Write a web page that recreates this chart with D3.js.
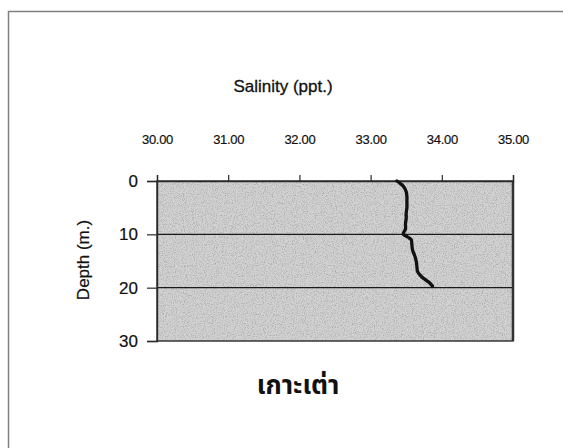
<!DOCTYPE html>
<html>
<head>
<meta charset="utf-8">
<script src="https://cdn.jsdelivr.net/npm/d3@7/dist/d3.min.js"></script>
<style>
  html, body { margin: 0; padding: 0; background: #fff; }
  svg { display: block; }
  text { font-family: "Liberation Sans", Arial, sans-serif; fill: #111; }
</style>
</head>
<body>
<svg id="chart" width="563" height="448"></svg>
<script>
// Salinity profile at Koh Tao
const depths   = [0, 0.5, 1, 2, 3, 4, 5, 6, 7, 8, 9, 9.5, 10, 10.5, 11, 12, 13, 14, 15, 16, 17, 18, 18.5, 19, 19.7];
const salinity = [33.37, 33.42, 33.46, 33.50, 33.51, 33.51, 33.51, 33.50, 33.50, 33.49, 33.49, 33.47, 33.46, 33.52, 33.57, 33.58, 33.59, 33.62, 33.64, 33.65, 33.66, 33.72, 33.77, 33.82, 33.87];
const salinityTicks = [30, 31, 32, 33, 34, 35];
const depthTicks = [0, 10, 20, 30];
const xTitle = "Salinity (ppt.)";
const yTitle = "Depth (m.)";
const stationName = "เกาะเต่า";

const svg = d3.select("#chart");
const plot = { left: 157, right: 513, top: 181, bottom: 341 };

const x = d3.scaleLinear().domain([30, 35]).range([plot.left, plot.right]);
const y = d3.scaleLinear().domain([0, 30]).range([plot.top, plot.bottom]);

// outer frame (top and left edges)
svg.append("path")
  .attr("d", "M8.5,448 V11.5 H563")
  .attr("fill", "none").attr("stroke", "#808080").attr("stroke-width", 1.5);

// grainy fill pattern for the plot area
const defs = svg.append("defs");
const f = defs.append("filter").attr("id", "grain")
  .attr("x", 0).attr("y", 0).attr("width", 1).attr("height", 1);
f.append("feTurbulence").attr("type", "fractalNoise")
  .attr("baseFrequency", 0.9).attr("numOctaves", 2).attr("seed", 4).attr("result", "noise");
f.append("feColorMatrix").attr("in", "noise").attr("type", "matrix")
  .attr("values", "0 0 0 0 0  0 0 0 0 0  0 0 0 0 0  0 0 0 -0.9 0.5")
  .attr("result", "dots");
f.append("feComposite").attr("in", "dots").attr("in2", "SourceGraphic").attr("operator", "in");

svg.append("rect")
  .attr("x", plot.left).attr("y", plot.top)
  .attr("width", plot.right - plot.left).attr("height", plot.bottom - plot.top)
  .attr("fill", "#d2d2d2");
svg.append("rect")
  .attr("x", plot.left).attr("y", plot.top)
  .attr("width", plot.right - plot.left).attr("height", plot.bottom - plot.top)
  .attr("fill", "#ffffff").attr("filter", "url(#grain)").attr("opacity", 0.55);

// horizontal gridlines
svg.append("g").selectAll("line")
  .data(depthTicks.slice(1, -1))
  .join("line")
  .attr("x1", plot.left).attr("x2", plot.right)
  .attr("y1", d => y(d)).attr("y2", d => y(d))
  .attr("stroke", "#1a1a1a").attr("stroke-width", 1.4);

// plot border
svg.append("rect")
  .attr("x", plot.left).attr("y", plot.top)
  .attr("width", plot.right - plot.left).attr("height", plot.bottom - plot.top)
  .attr("fill", "none").attr("stroke", "#2a2a2a").attr("stroke-width", 1.4);
svg.append("line")
  .attr("x1", plot.right).attr("x2", plot.right)
  .attr("y1", plot.top).attr("y2", plot.bottom)
  .attr("stroke", "#333").attr("stroke-width", 2.5);

// top axis (salinity)
const xAxis = svg.append("g")
  .attr("transform", `translate(0,${plot.top})`)
  .call(d3.axisTop(x).tickValues(salinityTicks).tickSize(6).tickPadding(31).tickFormat(d3.format(".2f")));
xAxis.select(".domain").attr("stroke", "#2a2a2a").attr("stroke-width", 1.4);
xAxis.selectAll(".tick line").attr("stroke", "#2a2a2a").attr("stroke-width", 1.2);
xAxis.selectAll(".tick text")
  .attr("font-size", 13).attr("font-family", "Liberation Sans, Arial, sans-serif")
  .attr("fill", "#111").attr("letter-spacing", "-0.3px")
  .attr("stroke", "#111").attr("stroke-width", 0.2);

// left axis (depth)
const yAxis = svg.append("g")
  .attr("transform", `translate(${plot.left},0)`)
  .call(d3.axisLeft(y).tickValues(depthTicks).tickSize(10).tickPadding(9).tickFormat(d3.format("d")));
yAxis.select(".domain").attr("stroke", "#2a2a2a").attr("stroke-width", 1.4);
yAxis.selectAll(".tick line").attr("stroke", "#2a2a2a").attr("stroke-width", 1.2);
yAxis.selectAll(".tick text")
  .attr("font-size", 17).attr("font-family", "Liberation Sans, Arial, sans-serif")
  .attr("fill", "#111").attr("stroke", "#111").attr("stroke-width", 0.2);

// axis titles
svg.append("text")
  .attr("x", 283).attr("y", 92)
  .attr("text-anchor", "middle").attr("font-size", 17)
  .attr("stroke", "#111").attr("stroke-width", 0.3)
  .text(xTitle);

svg.append("text")
  .attr("transform", "translate(89,260) rotate(-90)")
  .attr("text-anchor", "middle").attr("font-size", 17)
  .attr("stroke", "#111").attr("stroke-width", 0.2)
  .text(yTitle);

// salinity profile line
const line = d3.line()
  .x(d => x(d[1]))
  .y(d => y(d[0]))
  .curve(d3.curveCatmullRom.alpha(0.5));

svg.append("path")
  .datum(depths.map((d, i) => [d, salinity[i]]))
  .attr("d", line)
  .attr("fill", "none").attr("stroke", "#111")
  .attr("stroke-width", 3.3).attr("stroke-linecap", "round").attr("stroke-linejoin", "round");

// station name
svg.append("text")
  .attr("x", 298).attr("y", 394)
  .attr("text-anchor", "middle").attr("font-size", 26).attr("font-weight", "bold")
  .style("font-family", "'Noto Sans Thai', 'Noto Sans', 'DejaVu Sans', sans-serif")
  .attr("fill", "#222")
  .text(stationName);
</script>
</body>
</html>
